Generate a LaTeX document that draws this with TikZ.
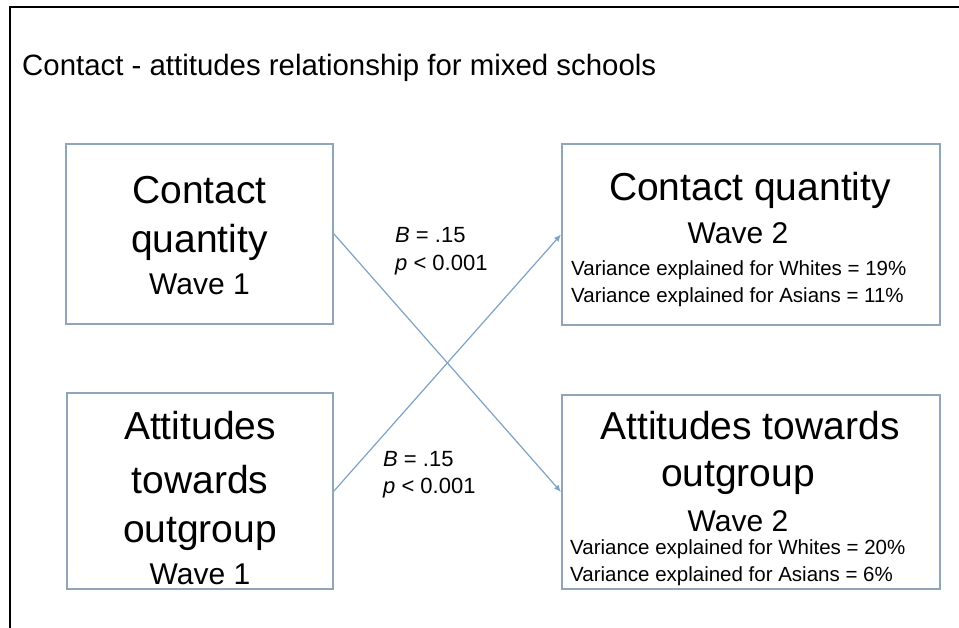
\documentclass[tikz,border=0pt]{standalone}
\usepackage{fontspec}
\setmainfont{Liberation Sans}
\usetikzlibrary{arrows.meta}
\definecolor{boxline}{RGB}{143,166,186}
\definecolor{arrowline}{RGB}{125,163,199}
\tikzset{
  box/.style={draw=boxline, line width=2pt, fill=white, inner sep=0pt},
  big/.style={font=\fontsize{39}{44}\selectfont, inner sep=0pt, anchor=center},
  wave/.style={font=\fontsize{30}{34}\selectfont, inner sep=0pt, anchor=center},
  var/.style={font=\fontsize{20.5}{24}\selectfont, inner sep=0pt, anchor=west},
  lab/.style={font=\fontsize{22}{26}\selectfont, inner sep=0pt, anchor=west},
  conn/.style={draw=arrowline, line width=1.2pt, -{Latex[length=7pt,width=6pt]}},
}
\begin{document}
\begin{tikzpicture}[x=1pt,y=-1pt]
\useasboundingbox (0,0) rectangle (959,628);
\fill[white] (0,0) rectangle (959,628);
\draw[line width=2.2pt] (10,628) -- (10,7) -- (959,7);
\node[font=\fontsize{29.4}{33}\selectfont, inner sep=0pt, anchor=west] (title) at (22,68) {Contact - attitudes relationship for mixed schools};
% boxes
\node[box, minimum width=267pt, minimum height=180pt] (b1) at (199.5,234) {};
\node[box, minimum width=266pt, minimum height=196pt] (b2) at (200,491) {};
\node[box, minimum width=378pt, minimum height=181pt] (b3) at (751,234.5) {};
\node[box, minimum width=378pt, minimum height=194pt] (b4) at (751,492) {};
% box 1 text
\node[big] (t1a) at (199.5,190) {Contact};
\node[big] (t1b) at (199.5,242) {quantity};
\node[wave] (t1c) at (199.5,284) {Wave 1};
% box 2 text
\node[big] (t2a) at (200,426) {Attitudes};
\node[big] (t2b) at (200,480) {towards};
\node[big] (t2c) at (200,534) {outgroup};
\node[wave] (t2d) at (200,574) {Wave 1};
% box 3 text
\node[big] (t3a) at (750,190) {Contact quantity};
\node[wave] (t3b) at (738,233) {Wave 2};
\node[var] (t3c) at (571,270) {Variance explained for Whites = 19\%};
\node[var] (t3d) at (571,297) {Variance explained for Asians = 11\%};
% box 4 text
\node[big] (t4a) at (750,426) {Attitudes towards};
\node[big] (t4b) at (738,478) {outgroup};
\node[wave] (t4c) at (738,521) {Wave 2};
\node[var] (t4d) at (570,549) {Variance explained for Whites = 20\%};
\node[var] (t4e) at (570,576) {Variance explained for Asians = 6\%};
% connectors
\draw[conn] (b1.east) -- (b4.west);
\draw[conn] (b2.east) -- (b3.west);
% labels
\node[lab] (l1a) at (395,235) {\textit{B} = .15};
\node[lab] (l1b) at (395,265) {\textit{p} < 0.001};
\node[lab] (l2a) at (383,459) {\textit{B} = .15};
\node[lab] (l2b) at (383,488) {\textit{p} < 0.001};
\end{tikzpicture}
\end{document}
